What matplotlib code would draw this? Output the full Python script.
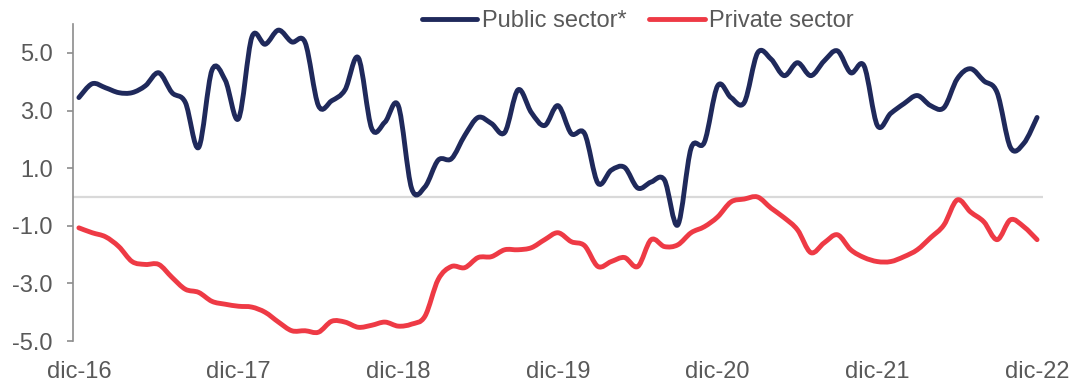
import numpy as np
import matplotlib.pyplot as plt
from matplotlib.path import Path
from matplotlib.patches import PathPatch
from matplotlib.lines import Line2D

# monthly series, dic-16 .. dic-22
public = [3.45, 3.93, 3.79, 3.62, 3.62, 3.86, 4.31, 3.62, 3.28, 1.72,
          4.40, 4.05, 2.72, 5.55, 5.30, 5.79, 5.38, 5.36, 3.17, 3.34,
          3.72, 4.83, 2.38, 2.60, 3.17, 0.30, 0.35, 1.28, 1.33, 2.14,
          2.76, 2.55, 2.24, 3.72, 2.93, 2.48, 3.17, 2.20, 2.20, 0.48,
          0.93, 1.03, 0.31, 0.52, 0.59, -0.97, 1.69, 1.90, 3.86, 3.45,
          3.28, 5.00, 4.79, 4.21, 4.66, 4.21, 4.72, 5.07, 4.31, 4.55,
          2.48, 2.90, 3.24, 3.52, 3.17, 3.10, 4.10, 4.45, 4.03, 3.62,
          1.72, 1.86, 2.76]
private = [-1.07, -1.24, -1.38, -1.72, -2.24, -2.34, -2.34, -2.79, -3.20, -3.31,
           -3.62, -3.72, -3.79, -3.82, -4.00, -4.34, -4.64, -4.64, -4.69, -4.31,
           -4.34, -4.52, -4.45, -4.34, -4.48, -4.41, -4.14, -2.86, -2.41, -2.45,
           -2.10, -2.07, -1.83, -1.83, -1.76, -1.48, -1.24, -1.55, -1.69, -2.41,
           -2.24, -2.10, -2.41, -1.48, -1.72, -1.66, -1.24, -1.03, -0.69, -0.17,
           -0.07, 0.00, -0.38, -0.72, -1.14, -1.93, -1.59, -1.31, -1.83, -2.10,
           -2.24, -2.24, -2.07, -1.83, -1.41, -0.97, -0.10, -0.52, -0.86, -1.48,
           -0.79, -1.03, -1.48]
tick_labels = ['dic-16', 'dic-17', 'dic-18', 'dic-19', 'dic-20', 'dic-21', 'dic-22']

NAVY = '#1f295b'
RED = '#ee3a45'
GREY = '#595959'


def smooth_path(x, y):
    # Catmull-Rom style bezier through every point
    pts = np.column_stack([x, y]).astype(float)
    n = len(pts)
    verts = [pts[0]]
    codes = [Path.MOVETO]
    for i in range(n - 1):
        p0 = pts[i - 1] if i > 0 else pts[i]
        p1 = pts[i]
        p2 = pts[i + 1]
        p3 = pts[i + 2] if i + 2 < n else pts[i + 1]
        c1 = p1 + (p2 - p0) / 6.0
        c2 = p2 - (p3 - p1) / 6.0
        verts += [c1, c2, p2]
        codes += [Path.CURVE4] * 3
    return Path(verts, codes)


plt.rcParams['font.family'] = ['Liberation Sans', 'DejaVu Sans']
fig = plt.figure(figsize=(10.72, 3.82), dpi=100)
ax = fig.add_axes([0.068, 0.107, 0.905, 0.830])

x = np.arange(len(public))
ax.axhline(0, color='#d9d9d9', lw=1.6, zorder=1)
for vals, col in [(public, NAVY), (private, RED)]:
    patch = PathPatch(smooth_path(x, vals), facecolor='none', edgecolor=col,
                      lw=3.5, capstyle='round', joinstyle='round', zorder=3)
    ax.add_patch(patch)

ax.set_xlim(-0.45, len(public) - 0.55)
ax.set_ylim(-5, 6)
ax.set_yticks([-5, -3, -1, 1, 3, 5])
ax.set_yticklabels(['%.1f' % v for v in [-5, -3, -1, 1, 3, 5]])
ax.set_xticks(np.arange(0, len(public), 12))
ax.set_xticklabels(tick_labels)

for s in ['top', 'right', 'bottom']:
    ax.spines[s].set_visible(False)
ax.spines['left'].set_color('#8c8c8c')
ax.spines['left'].set_linewidth(1.2)
ax.tick_params(axis='y', length=4.5, width=1.2, color='#8c8c8c', pad=10,
               labelsize=17, labelcolor=GREY)
ax.tick_params(axis='x', length=0, pad=14, labelsize=17, labelcolor=GREY)

handles = [Line2D([], [], color=NAVY, lw=3.5, solid_capstyle='round'),
           Line2D([], [], color=RED, lw=3.5, solid_capstyle='round')]
fig.legend(handles, ['Public sector*', 'Private sector'], loc='center',
           bbox_to_anchor=(0.595, 0.945), ncol=2, frameon=False, fontsize=17,
           labelcolor=GREY, handlelength=2.35, handletextpad=0.2,
           columnspacing=0.95)

fig.savefig('out.png', dpi=100)
